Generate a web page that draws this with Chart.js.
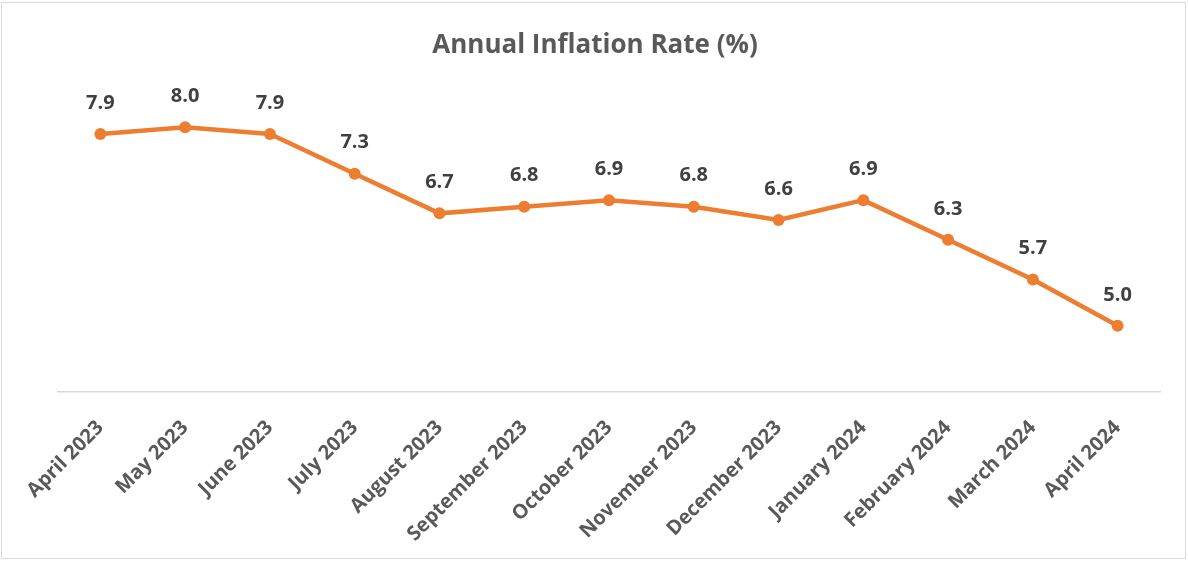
<!DOCTYPE html>
<html>
<head>
<meta charset="utf-8">
<script src="https://cdn.jsdelivr.net/npm/chart.js@4"></script>
<style>
  html, body { margin: 0; padding: 0; background: #fff; }
  #wrap { position: relative; width: 1188px; height: 561px; }
</style>
</head>
<body>
<div id="wrap"><canvas id="inflation-chart"></canvas></div>
<script>
// chart data
const months = [
  'April 2023', 'May 2023', 'June 2023', 'July 2023', 'August 2023',
  'September 2023', 'October 2023', 'November 2023', 'December 2023',
  'January 2024', 'February 2024', 'March 2024', 'April 2024'
];
const inflationRates = [7.9, 8.0, 7.9, 7.3, 6.7, 6.8, 6.9, 6.8, 6.6, 6.9, 6.3, 5.7, 5.0];
const titleText = 'Annual Inflation Rate (%)';

const fontFamily = "'Open Sans', 'DejaVu Sans', sans-serif";

// value labels above each point
const pointLabels = {
  id: 'pointLabels',
  afterDatasetsDraw(chart) {
    const ctx = chart.ctx;
    const meta = chart.getDatasetMeta(0);
    ctx.save();
    ctx.font = `bold 20px ${fontFamily}`;
    ctx.fillStyle = '#404040';
    ctx.textAlign = 'center';
    ctx.textBaseline = 'middle';
    meta.data.forEach((pt, i) => {
      ctx.fillText(inflationRates[i].toFixed(1), pt.x, pt.y - 31);
    });
    ctx.restore();
  }
};

// light outer frame like the office chart
const outerFrame = {
  id: 'outerFrame',
  beforeDraw(chart) {
    const ctx = chart.ctx;
    ctx.save();
    ctx.fillStyle = '#fff';
    ctx.fillRect(0, 0, chart.width, chart.height);
    ctx.strokeStyle = '#d9d9d9';
    ctx.lineWidth = 1;
    ctx.strokeRect(1.5, 2.5, chart.width - 4, chart.height - 5);
    ctx.restore();
  }
};

new Chart(document.getElementById('inflation-chart'), {
  type: 'line',
  data: {
    labels: months,
    datasets: [{
      data: inflationRates,
      borderColor: '#ED7D31',
      backgroundColor: '#ED7D31',
      borderWidth: 4.5,
      pointRadius: 6,
      pointBorderWidth: 0,
      pointBackgroundColor: '#ED7D31',
      tension: 0
    }]
  },
  options: {
    responsive: true,
    maintainAspectRatio: false,
    animation: false,
    layout: { padding: { left: 30, right: 28, top: 0, bottom: 0 } },
    plugins: {
      legend: { display: false },
      tooltip: { enabled: false },
      title: {
        display: true,
        text: titleText,
        color: '#595959',
        font: { family: fontFamily, size: 26, weight: 'bold' },
        padding: { top: 30, bottom: 0 }
      }
    },
    scales: {
      x: {
        offset: true,
        grid: { display: false },
        border: { display: true, color: '#d9d9d9', width: 1.5 },
        ticks: {
          color: '#595959',
          font: { family: fontFamily, size: 20, weight: 'bold' },
          minRotation: 45,
          maxRotation: 45,
          autoSkip: false,
          padding: 16
        },
        afterFit(scale) {
          scale.height = 169;
          scale.paddingLeft = 0;
          scale.paddingRight = 0;
        }
      },
      y: {
        min: 4,
        max: 9,
        // hidden axis, only keeps the empty band left of the plot
        grid: { display: false },
        border: { display: false },
        ticks: { display: false },
        afterFit(scale) {
          scale.width = 28;
        }
      }
    }
  },
  plugins: [outerFrame, pointLabels]
});
</script>
</body>
</html>
